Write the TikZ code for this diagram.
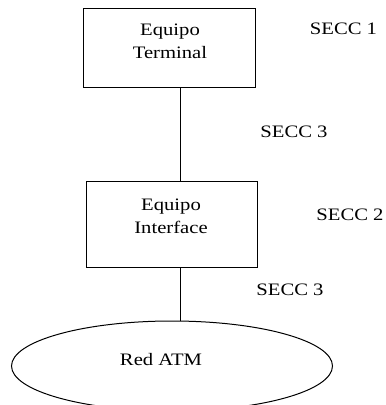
\documentclass[tikz,border=0pt]{standalone}
\usepackage{fontspec}
\setmainfont[FakeStretch=1.18]{Liberation Serif}
\usetikzlibrary{shapes.geometric}
\begin{document}
\begin{tikzpicture}[x=1pt,y=-1pt,
  unit/.style={draw,line width=1pt,inner sep=0pt},
  txt/.style={align=center,font=\fontsize{17.5}{23}\selectfont,inner sep=0pt},
  secc/.style={font=\fontsize{17.5}{22}\selectfont,inner sep=0pt},
  link/.style={line width=1pt}]
\useasboundingbox (0,0) rectangle (386,405);
% terminal equipment
\node[unit,minimum width=172pt,minimum height=79pt] (term) at (169,47.5) {};
\node[txt] (termtxt) at (170,41.5) {Equipo\\Terminal};
% interface equipment
\node[unit,minimum width=171pt,minimum height=86pt] (intf) at (171.5,224) {};
\node[txt] (intftxt) at (171,216.5) {Equipo\\Interface};
% ATM network
\node[unit,ellipse,minimum width=321pt,minimum height=90pt] (atm) at (172,366) {};
\node[txt] (atmtxt) at (161,360) {Red ATM};
% section labels
\node[secc] (s1) at (343.5,28.5) {SECC 1};
\node[secc] (s3a) at (294,131.5) {SECC 3};
\node[secc] (s2) at (350,215) {SECC 2};
\node[secc] (s3b) at (290,289.5) {SECC 3};
% connections
\coordinate (c1) at (180,0);
\draw[link] (term.south -| c1) -- (intf.north -| c1);
\draw[link] (intf.south -| c1) -- (atm.north -| c1);
\end{tikzpicture}
\end{document}
